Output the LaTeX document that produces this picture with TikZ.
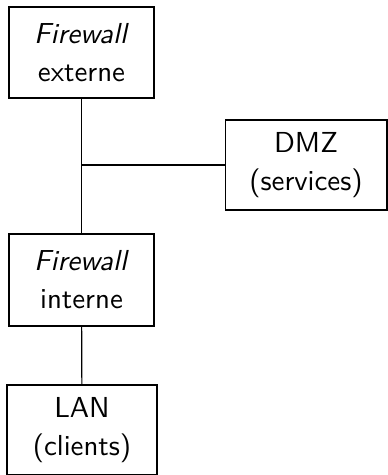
\documentclass[tikz,border=0pt]{standalone}
\usepackage{tikz}
\usetikzlibrary{positioning}

\tikzset{
  zone/.style={draw, thin, align=center, font={\sffamily\linespread{1.1}\selectfont},
    inner sep=2pt, minimum width=50.2pt, minimum height=31.5pt},
}

\begin{document}
\begin{tikzpicture}[x=0.346pt,y=-0.346pt]
  \useasboundingbox (0,0) rectangle (388,475);
  % perimetre: deux pare-feu en serie, la DMZ entre les deux
  \node[zone] (fwext) at (81.5,52.5) {\textit{Firewall}\\externe};
  \node[zone, minimum width=56pt, minimum height=31.1pt] (dmz) at (306,165) {DMZ\\(services)};
  \node[zone, minimum height=31.8pt] (fwint) at (81.5,280) {\textit{Firewall}\\interne};
  \node[zone, minimum width=51.9pt, minimum height=31.1pt] (lan) at (82,430) {LAN\\(clients)};
  \coordinate (jdmz) at (fwext.south |- dmz.west);
  \draw (fwext) -- (fwint);
  \draw (jdmz) -- (dmz);
  \draw (fwint) -- (lan);
\end{tikzpicture}
\end{document}
